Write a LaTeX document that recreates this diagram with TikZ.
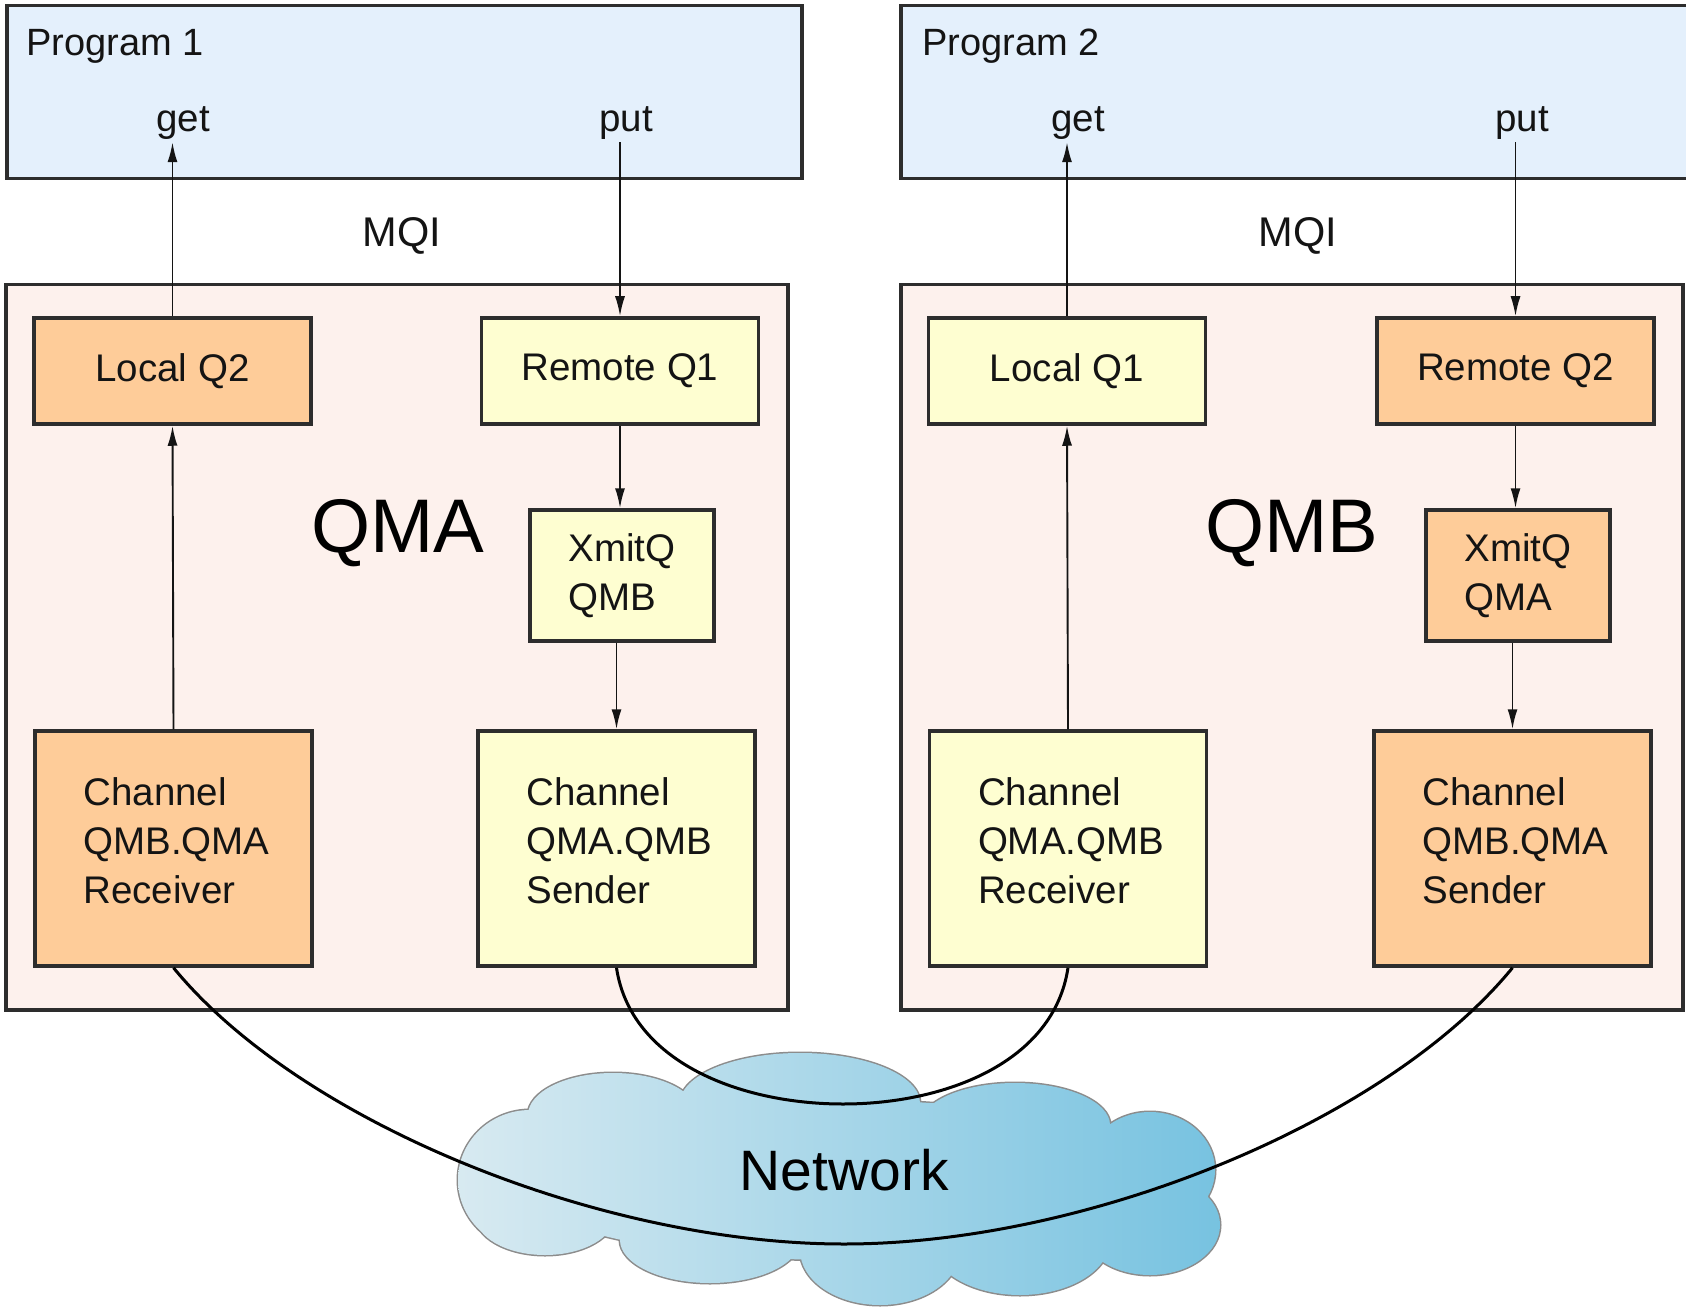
\documentclass[tikz,border=0pt]{standalone}
\usepackage{fontspec}
\setmainfont{Liberation Sans}
\usetikzlibrary{arrows.meta}

\definecolor{progfill}{RGB}{228,240,252}
\definecolor{qmfill}{RGB}{253,241,237}
\definecolor{qorange}{RGB}{254,204,153}
\definecolor{qyellow}{RGB}{254,254,209}
\definecolor{edgegray}{RGB}{45,45,45}
\definecolor{cloudlight}{RGB}{216,234,241}
\definecolor{clouddark}{RGB}{118,194,224}
\definecolor{ink}{RGB}{20,20,20}

\newcommand\lblfont{\fontsize{38.5}{49}\selectfont}
\newcommand\mqifont{\fontsize{41.5}{50}\selectfont}
\newcommand\progfont{\fontsize{38}{46}\selectfont}
\newcommand\qmfont{\fontsize{76}{90}\selectfont}
\newcommand\netfont{\fontsize{57}{68}\selectfont}

% Outline of the network cloud as a union of lobes
\newcommand\cloudshape{
 (840,1180) ellipse [x radius=330pt, y radius=80pt]
 (530,1180) ellipse [x radius=72pt, y radius=70pt]
 (613,1115) ellipse [x radius=85pt, y radius=42pt]
 (800,1103) ellipse [x radius=120pt, y radius=50pt]
 (1015,1125) ellipse [x radius=95pt, y radius=42pt]
 (1150,1170) ellipse [x radius=65pt, y radius=58pt]
 (1150,1225) ellipse [x radius=70pt, y radius=50pt]
 (1020,1240) ellipse [x radius=90pt, y radius=55pt]
 (880,1250) ellipse [x radius=80pt, y radius=55pt]
 (710,1240) ellipse [x radius=90pt, y radius=43pt]
 (545,1215) ellipse [x radius=70pt, y radius=40pt]
}

\tikzset{
  panel/.style={draw=edgegray, line width=3.5pt, anchor=north west, inner sep=0pt},
  qbox/.style={draw=edgegray, line width=3.5pt, minimum width=277pt,
               minimum height=106pt, font=\lblfont, align=left, text=ink, inner sep=0pt},
  chanbox/.style={qbox, minimum height=235pt, text width=180pt, text depth=113pt},
  xmitbox/.style={qbox, minimum width=184pt, minimum height=131pt},
  lbl/.style={font=\lblfont, text=ink, inner sep=2pt},
  arr/.style={draw=ink, line width=1.9pt, -{Latex[length=20pt,width=10pt]}},
  link/.style={draw=black, line width=3pt},
}

\begin{document}
\begin{tikzpicture}[x=1pt, y=-1pt]
\useasboundingbox (0,0) rectangle (1686,1313);
\clip (0,0) rectangle (1686,1313);
\fill[white] (0,0) rectangle (1686,1313);

% Application programs
\node[panel, fill=progfill, minimum width=795pt, minimum height=173pt] (prog1) at (5,4) {};
\node[panel, fill=progfill, minimum width=821pt, minimum height=173pt] (prog2) at (899,4) {};

% Queue managers
\node[panel, fill=qmfill, minimum width=782pt, minimum height=725pt] (qmabox) at (4,283) {};
\node[panel, fill=qmfill, minimum width=782pt, minimum height=725pt] (qmbbox) at (899,283) {};

% Labels of programs and managers
\node[anchor=base west, font=\progfont, text=ink, inner sep=0pt] (p1lbl) at (26,56) {Program 1};
\node[anchor=base west, font=\progfont, text=ink, inner sep=0pt] (p2lbl) at (922,56) {Program 2};
\node[lbl, anchor=base] (get1) at (183,132) {get};
\node[lbl, anchor=base] (put1) at (626,132) {put};
\node[lbl, anchor=base] (get2) at (1078,132) {get};
\node[lbl, anchor=base] (put2) at (1522,132) {put};
\node[lbl, font=\mqifont, anchor=base] (mqi1) at (402,247) {MQI};
\node[lbl, font=\mqifont, anchor=base] (mqi2) at (1298,247) {MQI};
\node[font=\qmfont, text=black, anchor=base, inner sep=0pt] (qma) at (398,552) {QMA};
\node[font=\qmfont, text=black, anchor=base, inner sep=0pt] (qmb) at (1292,552) {QMB};

% Objects of QMA
\node[qbox, fill=qorange] (lq2) at (172.5,371) {Local Q2};
\node[qbox, fill=qyellow] (rq1) at (620,371) {Remote Q1};
\node[xmitbox, fill=qyellow] (xqa) at (622,575.5) {XmitQ\\QMB};
\node[chanbox, fill=qorange] (rcva) at (173.5,848.5) {Channel\\QMB.QMA\\Receiver};
\node[chanbox, fill=qyellow] (snda) at (616.5,848.5) {Channel\\QMA.QMB\\Sender};

% Objects of QMB
\node[qbox, fill=qyellow] (lq1) at (1067,371) {Local Q1};
\node[qbox, fill=qorange] (rq2) at (1515.5,371) {Remote Q2};
\node[xmitbox, fill=qorange] (xqb) at (1518,575.5) {XmitQ\\QMA};
\node[chanbox, fill=qyellow] (rcvb) at (1068,848.5) {Channel\\QMA.QMB\\Receiver};
\node[chanbox, fill=qorange] (sndb) at (1512.5,848.5) {Channel\\QMB.QMA\\Sender};

% MQI calls and message flow inside each manager
\draw[arr] (lq2.north) -- (lq2.north |- get1.south);
\draw[arr] (put1.south -| rq1.north) -- (rq1.north);
\draw[arr] (rcva.north) -- (lq2.south);
\draw[arr] (rq1.south) -- (rq1.south |- xqa.north);
\draw[arr] (xqa.south -| snda.north) -- (snda.north);

\draw[arr] (lq1.north) -- (lq1.north |- get2.south);
\draw[arr] (put2.south -| rq2.north) -- (rq2.north);
\draw[arr] (rcvb.north) -- (lq1.south);
\draw[arr] (rq2.south) -- (rq2.south |- xqb.north);
\draw[arr] (xqb.south -| sndb.north) -- (sndb.north);

% Network cloud
\draw[draw=black!45, line width=3pt] \cloudshape;
\begin{scope}
  \clip \cloudshape;
  \shade[left color=cloudlight, right color=clouddark] (455,1040) rectangle (1228,1315);
\end{scope}
\node[font=\netfont, text=black, anchor=base, inner sep=0pt] (net) at (844,1190) {Network};

% Channel connections across the network
\coordinate (lowinner) at (843,1104);
\coordinate (lowouter) at (844,1244);
\draw[link] (snda.south) .. controls +(14,94) and +(-103,0) .. (lowinner)
                         .. controls +(103,0) and +(-14,94) .. (rcvb.south);
\draw[link] (rcva.south) .. controls +(126,154) and +(-244,0) .. (lowouter)
                         .. controls +(244,0) and +(-126,154) .. (sndb.south);
\end{tikzpicture}
\end{document}
